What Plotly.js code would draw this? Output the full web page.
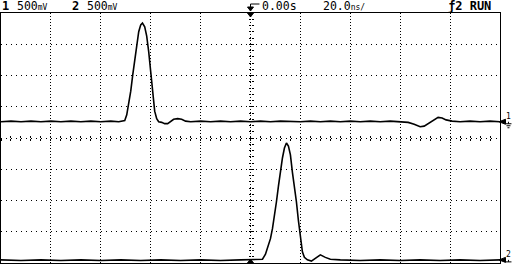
<!DOCTYPE html>
<html><head><meta charset="utf-8">
<script src="https://cdn.plot.ly/plotly-3.0.1.min.js"></script>
<style>html,body{margin:0;padding:0;background:#fff}#chart{width:512px;height:280px}</style>
</head><body><div id="chart"></div>
<script>
// Channel 1 (time in ns, volts)
const ch1Time = [-100,-96,-92,-88,-84,-80,-76,-72,-68,-64,-60,-56,-52.8,-51.2,-50.4,-49.6,-48.8,-48,-47.2,-46.4,-45.6,-44.8,-44,-43.3,-42.4,-41.6,-40.8,-40,-39.2,-38.4,-37.6,-36.8,-35.6,-34.4,-33.2,-32,-30.8,-29.2,-27.6,-26,-24,-20,-16,-12,-8,-4,0,4,8,12,16,20,24,28,32,36,40,44,48,52,56,60,63.2,65.6,68,69.6,71.2,73.2,75.2,76.8,78.4,80.8,84,88,92,96,100];
const ch1Volts = [0.26,0.27,0.26,0.27,0.26,0.27,0.26,0.27,0.26,0.27,0.26,0.27,0.26,0.27,0.28,0.37,0.53,0.75,1.01,1.26,1.50,1.70,1.81,1.84,1.78,1.63,1.38,1.06,0.70,0.43,0.31,0.26,0.25,0.23,0.23,0.26,0.30,0.31,0.30,0.27,0.26,0.27,0.26,0.27,0.26,0.27,0.26,0.27,0.26,0.27,0.26,0.26,0.27,0.26,0.27,0.26,0.27,0.26,0.27,0.26,0.27,0.26,0.25,0.22,0.18,0.19,0.23,0.29,0.33,0.32,0.29,0.27,0.26,0.27,0.26,0.27,0.26];
// Channel 2
const ch2Time = [-100,-92,-84,-76,-68,-60,-52,-44,-36,-28,-20,-12,-4,2,4.8,6,7.2,8,8.8,9.6,10.4,11.2,12,12.8,13.6,14.4,15.2,16,16.8,17.6,18.4,19.2,20,20.8,21.6,22.8,24.4,26,28,30,32,36,44,52,60,68,76,84,92,100];
const ch2Volts = [-1.95,-1.96,-1.95,-1.96,-1.95,-1.96,-1.95,-1.96,-1.95,-1.96,-1.95,-1.96,-1.95,-1.95,-1.94,-1.86,-1.72,-1.61,-1.45,-1.26,-1.02,-0.77,-0.53,-0.32,-0.16,-0.08,-0.13,-0.27,-0.55,-0.77,-1.02,-1.32,-1.61,-1.82,-1.91,-1.95,-1.97,-1.92,-1.87,-1.91,-1.94,-1.95,-1.96,-1.95,-1.96,-1.95,-1.96,-1.95,-1.96,-1.95];
// Header labels
const ch1Label = "1", ch1Scale = "500", ch2Label = "2", ch2Scale = "500";
const voltUnit = "mV";
const trigTime = "0.00s", timeBase = "20.0", timeUnit = "ns/";
const trigLabel = "ƒ2", runLabel = "RUN";
// Ground reference markers
const groundLabels = ["1", "2"];
const groundLevels = [0.26, -1.95];

const mono = "DejaVu Sans Mono";
const traces = [
  {x: ch1Time, y: ch1Volts, mode: "lines", line: {color: "#000", width: 1.6}, hoverinfo: "skip", showlegend: false},
  {x: ch2Time, y: ch2Volts, mode: "lines", line: {color: "#000", width: 1.6}, hoverinfo: "skip", showlegend: false},
  {x: [], y: [], xaxis: "x2", yaxis: "y", showlegend: false, hoverinfo: "skip"},
  {x: [], y: [], xaxis: "x3", yaxis: "y", showlegend: false, hoverinfo: "skip"},
  {x: [], y: [], xaxis: "x", yaxis: "y2", showlegend: false, hoverinfo: "skip"},
  {x: [], y: [], xaxis: "x", yaxis: "y3", showlegend: false, hoverinfo: "skip"}
];
const centerX = (side) => ({overlaying: "x", anchor: "free", position: 0.5, range: [-100, 100], showgrid: false, zeroline: false, showline: false, showticklabels: false, ticks: side, ticklen: 2, tickwidth: 1, tickcolor: "#000", dtick: 4, tick0: 0});
const centerY = (side) => ({overlaying: "y", anchor: "free", position: 0.5, range: [-2, 2], showgrid: false, zeroline: false, showline: false, showticklabels: false, ticks: side, ticklen: 2, tickwidth: 1, tickcolor: "#000", dtick: 0.1, tick0: 0});
const headerY = 1.026;
const f = {family: mono, size: 11.5, color: "#000"};
const ann = (x, text, extra) => Object.assign({xref: "paper", yref: "paper", x: x, y: headerY, xanchor: "left", yanchor: "middle", showarrow: false, borderpad: 0, text: text, font: f}, extra || {});
const small = (t) => "<span style='font-size:8px'>" + t + "</span>";
const annotations = [
  ann(0, "<b>" + ch1Label + "</b>", {font: {family: mono, size: 12, color: "#000"}}),
  ann(0.030, ch1Scale + small(voltUnit)),
  ann(0.140, "<b>" + ch2Label + "</b>", {font: {family: mono, size: 12, color: "#000"}}),
  ann(0.170, ch2Scale + small(voltUnit)),
  ann(0.521, trigTime),
  ann(0.643, timeBase + small(timeUnit)),
  ann(0.893, "<b>" + trigLabel + " " + runLabel + "</b>", {font: {family: mono, size: 12, color: "#000"}})
];
const shapes = [
  {type: "path", xref: "x", yref: "paper", path: "M 0,1.036 L 3.6,1.036 M 0,1.036 L 0,1.016", line: {color: "#000", width: 1}},
  {type: "path", xref: "x", yref: "paper", path: "M -1.2,1.024 L 1.2,1.024 L 0,1.008 Z", fillcolor: "#000", line: {color: "#000", width: 1}},
  {type: "path", xref: "x", yref: "paper", path: "M -1.2,1.0 L 1.2,1.0 L 0,0.984 Z", fillcolor: "#000", line: {color: "#000", width: 1}},
  {type: "path", xref: "x", yref: "paper", path: "M -1.2,0.0 L 1.2,0.0 L 0,0.016 Z", fillcolor: "#000", line: {color: "#000", width: 1}}
];
const px = 0.016; // volts per screen pixel
groundLabels.forEach((lab, i) => {
  const g = groundLevels[i];
  annotations.push({xref: "paper", yref: "y", x: 1.011, y: g + 5 * px, xanchor: "left", yanchor: "middle", showarrow: false, borderpad: 0, text: lab, font: {family: mono, size: 8, color: "#000"}});
  // left-pointing arrow
  shapes.push({type: "path", xref: "paper", yref: "y", path: `M 0.998,${g} L 1.011,${g + 2.5 * px} L 1.011,${g - 2.5 * px} Z`, fillcolor: "#000", line: {color: "#000", width: 1}});
  // ground symbol
  shapes.push({type: "path", xref: "paper", yref: "y", path: `M 1.017,${g} L 1.017,${g - 2 * px} M 1.011,${g - 2 * px} L 1.023,${g - 2 * px} M 1.013,${g - 4 * px} L 1.021,${g - 4 * px} M 1.015,${g - 6 * px} L 1.019,${g - 6 * px}`, line: {color: "#000", width: 1}});
});
const layout = {
  width: 512, height: 280,
  margin: {l: 1, r: 12, t: 13, b: 17, pad: 0},
  paper_bgcolor: "#fff", plot_bgcolor: "#fff",
  showlegend: false,
  xaxis: {range: [-100, 100], dtick: 20, tick0: 0, showgrid: true, gridcolor: "#000", gridwidth: 1, griddash: "1px,2px", zeroline: false, showline: true, mirror: true, linecolor: "#000", linewidth: 1, showticklabels: false, ticks: ""},
  yaxis: {range: [-2, 2], dtick: 0.5, tick0: 0, showgrid: true, gridcolor: "#000", gridwidth: 1, griddash: "1px,4px", zeroline: false, showline: true, mirror: true, linecolor: "#000", linewidth: 1, showticklabels: false, ticks: ""},
  xaxis2: centerX("inside"), xaxis3: centerX("outside"),
  yaxis2: centerY("inside"), yaxis3: centerY("outside"),
  annotations: annotations,
  shapes: shapes
};
Plotly.newPlot("chart", traces, layout, {staticPlot: true, displayModeBar: false});
</script>
</body></html>
